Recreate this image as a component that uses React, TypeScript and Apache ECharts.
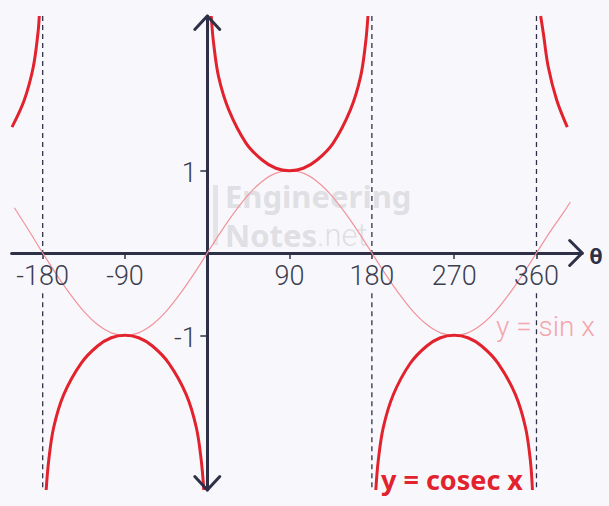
import React, { useEffect, useRef } from "react";
import * as echarts from "echarts";

// ---- data ----
const xTicks = [-180, -90, 90, 180, 270, 360];
const yTicks = [-1, 1];
const asymptotes = [-180, 180, 360];

const X_MIN = -214;
const X_MAX = 410;
const Y_MIN = -2.88;
const Y_MAX = 2.88;

const sinDeg = [-211, -195, -180, -165, -150, -135, -120, -105, -90, -75, -60, -45, -30, -15, 0, 15, 30, 45, 60, 75, 90, 105, 120, 135, 150, 165, 180, 195, 210, 225, 240, 255, 270, 285, 300, 315, 330, 345, 360, 375, 390, 397];
const sinVal = [0.55, 0.27, 0, -0.26, -0.5, -0.71, -0.87, -0.97, -1, -0.97, -0.87, -0.71, -0.5, -0.26, 0, 0.26, 0.5, 0.71, 0.87, 0.97, 1, 0.97, 0.87, 0.71, 0.5, 0.26, 0, -0.26, -0.5, -0.71, -0.87, -0.97, -1, -0.97, -0.87, -0.71, -0.5, -0.26, 0, 0.26, 0.5, 0.62];

const cosecLeftTop = [[-213.6, 1.53], [-200.1, 1.86], [-190.3, 2.26], [-185.2, 2.67], [-183.7, 2.88]];
const cosecBottomLeft = [[-176.2, -2.88], [-173.4, -2.52], [-168, -2.12], [-157, -1.72], [-138, -1.34], [-120, -1.13], [-105, -1.03], [-90, -1], [-75, -1.03], [-60, -1.13], [-42, -1.34], [-23, -1.72], [-12, -2.12], [-6.6, -2.52], [-3.8, -2.88]];
const cosecTopMiddle = [[4.3, 2.88], [6.9, 2.55], [12.4, 2.14], [23.5, 1.74], [42.7, 1.33], [60, 1.13], [75, 1.03], [90, 1], [105, 1.03], [120, 1.13], [137.3, 1.33], [156.5, 1.74], [167.6, 2.14], [173.1, 2.55], [175.7, 2.88]];
const cosecBottomRight = [[184.3, -2.88], [187, -2.52], [192.5, -2.12], [203.5, -1.72], [222, -1.34], [240, -1.13], [255, -1.03], [270, -1], [285, -1.03], [300, -1.13], [318, -1.34], [337, -1.72], [348, -2.12], [353.3, -2.52], [355.6, -2.88]];
const cosecRightTop = [[364.6, 2.88], [367.5, 2.67], [372.9, 2.26], [382.1, 1.86], [393.7, 1.53]];

const asymptoteGapBottom = -0.49;

// ---- styles ----
const BG = "#f8f8fc";
const DARK = "#2d3047";
const RED = "#e2232e";
const PINK = "#f2939a";
const LABEL = "#3c3e50";
const LIGHT_FONT = "Roboto";

export default function App() {
  const ref = useRef<HTMLDivElement>(null);

  useEffect(() => {
    const chart = echarts.init(ref.current!, null, { renderer: "svg" });

    const cosecSeries = [cosecLeftTop, cosecBottomLeft, cosecTopMiddle, cosecBottomRight, cosecRightTop].map((d) => ({
      type: "line",
      data: d,
      showSymbol: false,
      smooth: 0.35,
      lineStyle: { color: RED, width: 3 },
      z: 5,
      silent: true,
    }));

    const asymSeries: any[] = [];
    asymptotes.forEach((a) => {
      asymSeries.push({
        type: "line",
        data: [[a, Y_MAX], [a, 0]],
        showSymbol: false,
        lineStyle: { color: DARK, width: 1.3, type: [5, 4] },
        z: 2,
        silent: true,
      });
      asymSeries.push({
        type: "line",
        data: [[a, asymptoteGapBottom], [a, Y_MIN]],
        showSymbol: false,
        lineStyle: { color: DARK, width: 1.3, type: [5, 4] },
        z: 2,
        silent: true,
      });
    });

    chart.setOption({
      animation: false,
      backgroundColor: BG,
      grid: { left: 11.6, right: 26.8, top: 16, bottom: 16, containLabel: false, outerBoundsMode: "none" },
      xAxis: {
        type: "value",
        min: X_MIN,
        max: X_MAX,
        axisLine: { show: true, onZero: true, lineStyle: { color: DARK, width: 3 } },
        axisTick: { show: true, customValues: xTicks, length: 6, inside: false, lineStyle: { color: DARK, width: 1.5 } },
        axisLabel: { show: false },
        splitLine: { show: false },
      },
      yAxis: {
        type: "value",
        min: Y_MIN,
        max: Y_MAX,
        axisLine: { show: true, onZero: true, lineStyle: { color: DARK, width: 3 } },
        axisTick: { show: true, customValues: yTicks, length: 7, inside: false, lineStyle: { color: DARK, width: 1.5 } },
        axisLabel: { show: false },
        splitLine: { show: false },
      },
      series: [
        ...asymSeries,
        {
          type: "line",
          data: sinDeg.map((x, i) => [x, sinVal[i]]),
          showSymbol: false,
          smooth: 0.35,
          lineStyle: { color: PINK, width: 1.2 },
          z: 4,
          silent: true,
        },
        ...cosecSeries,
      ],
    });

    const p = (x: number, y: number) => chart.convertToPixel({ gridIndex: 0 }, [x, y]) as number[];
    const xe = p(X_MAX, 0);
    const yt = p(0, Y_MAX);
    const yb = p(0, Y_MIN);
    const origin = p(0, 0);
    const arrowStyle = { stroke: DARK, lineWidth: 3, fill: "none", lineCap: "round", lineJoin: "round" };

    const tickLabelFont = `300 27px ${LIGHT_FONT}`;
    const xLabels = xTicks.map((v) => {
      const q = p(v, 0);
      return {
        type: "text",
        z: 8,
        x: q[0],
        y: origin[1] + 23,
        style: { text: String(v), fill: LABEL, font: tickLabelFont, align: "center", verticalAlign: "middle" },
      };
    });
    const yLabels = yTicks.map((v) => {
      const q = p(0, v);
      return {
        type: "text",
        z: 8,
        x: origin[0] - 10.5,
        y: q[1] + 2.5,
        style: { text: String(v), fill: LABEL, font: tickLabelFont, align: "right", verticalAlign: "middle" },
      };
    });

    chart.setOption({
      graphic: [
        { type: "rect", z: 1, shape: { x: 213, y: 185, width: 5, height: 60 }, style: { fill: "#e3e3e8" } },
        {
          type: "text",
          z: 1,
          x: 225,
          y: 196,
          style: { text: "Engineering", fill: "#dfdfe4", font: "bold 31px 'Noto Sans'", lineHeight: 31, verticalAlign: "middle" },
        },
        {
          type: "text",
          z: 1,
          x: 225,
          y: 235,
          style: {
            text: "{b|Notes}{l|.net}",
            verticalAlign: "middle",
            lineHeight: 31,
            rich: {
              b: { fill: "#dfdfe4", fontFamily: "Noto Sans", fontWeight: "bold", fontSize: 31, lineHeight: 31 },
              l: { fill: "#dfdfe4", fontFamily: LIGHT_FONT, fontWeight: 300, fontSize: 31, lineHeight: 31 },
            },
          },
        },
        ...xLabels,
        ...yLabels,
        { type: "polyline", z: 10, shape: { points: [[xe[0] - 12.5, xe[1] - 12.5], [xe[0], xe[1]], [xe[0] - 12.5, xe[1] + 12.5]] }, style: arrowStyle },
        { type: "polyline", z: 10, shape: { points: [[yt[0] - 12.5, yt[1] + 13.5], [yt[0], yt[1]], [yt[0] + 12.5, yt[1] + 13.5]] }, style: arrowStyle },
        { type: "polyline", z: 10, shape: { points: [[yb[0] - 12.5, yb[1] - 13.5], [yb[0], yb[1]], [yb[0] + 12.5, yb[1] - 13.5]] }, style: arrowStyle },
        {
          type: "text",
          z: 10,
          x: 596,
          y: 255,
          style: { text: "θ", fill: DARK, font: "bold 22px 'Noto Sans'", align: "center", verticalAlign: "middle" },
        },
        {
          type: "text",
          z: 10,
          x: 496,
          y: 326,
          style: { text: "y = sin x", fill: "#f4a6ac", font: `300 28px ${LIGHT_FONT}`, verticalAlign: "middle" },
        },
        {
          type: "text",
          z: 10,
          x: 381,
          y: 479,
          style: { text: "y = cosec x", fill: RED, font: "bold 27px 'Noto Sans'", verticalAlign: "middle" },
        },
      ],
    });

    return () => chart.dispose();
  }, []);

  return (
    <div
      ref={ref}
      style={{ position: "fixed", left: 0, top: 0, width: 609, height: 506, background: BG }}
    />
  );
}
